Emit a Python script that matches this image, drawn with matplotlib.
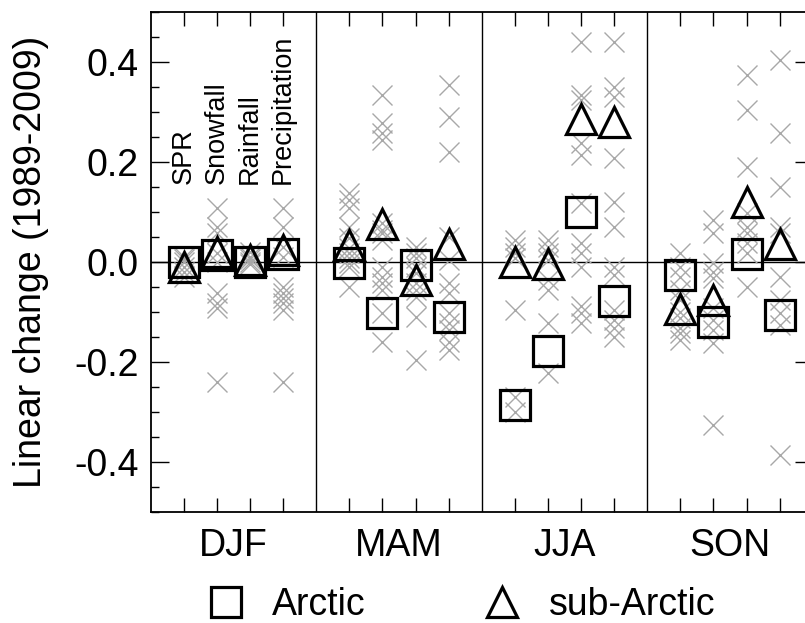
import matplotlib
matplotlib.use("Agg")
import matplotlib.pyplot as plt
from matplotlib.ticker import FixedLocator, MultipleLocator, FuncFormatter, NullFormatter

plt.rcParams['font.family'] = ['Liberation Sans', 'DejaVu Sans']

seasons = ["DJF", "MAM", "JJA", "SON"]
variables = ["SPR", "Snowfall", "Rainfall", "Precipitation"]

# Mean values (Arctic = squares, sub-Arctic = triangles), per season, per variable
arctic_DJF = [0.0, 0.014, 0.0, 0.016]
arctic_MAM = [-0.002, -0.103, -0.006, -0.110]
arctic_JJA = [-0.286, -0.179, 0.099, -0.079]
arctic_SON = [-0.026, -0.120, 0.016, -0.106]

subarctic_DJF = [-0.010, 0.019, 0.004, 0.024]
subarctic_MAM = [0.033, 0.075, -0.036, 0.035]
subarctic_JJA = [-0.001, -0.005, 0.286, 0.280]
subarctic_SON = [-0.094, -0.077, 0.119, 0.036]

# Individual members (grey crosses)
members_DJF = [
    [0.01, 0.005, 0.0, -0.01, -0.02, -0.03],
    [0.107, 0.07, 0.057, 0.017, 0.0, -0.063, -0.083, -0.093, -0.24],
    [0.02, 0.01, 0.005, 0.0, -0.005],
    [0.107, 0.07, 0.03, 0.01, -0.05, -0.063, -0.073, -0.083, -0.096, -0.24],
]
members_MAM = [
    [0.137, 0.124, 0.107, 0.07, 0.047, 0.027, 0.017, 0.007, -0.003, -0.01, -0.05],
    [0.334, 0.277, 0.257, 0.244, 0.077, 0.064, 0.057, 0.044, -0.01, -0.03, -0.043, -0.056, -0.103, -0.16],
    [0.03, 0.017, 0.007, -0.01, -0.023, -0.043, -0.056, -0.07, -0.11, -0.196],
    [0.354, 0.29, 0.22, 0.05, 0.004, -0.043, -0.063, -0.103, -0.123, -0.136, -0.16, -0.176],
]
members_JJA = [
    [0.044, 0.03, 0.017, 0.007, -0.096, -0.27, -0.30],
    [0.044, 0.03, 0.017, 0.004, -0.036, -0.056, -0.123, -0.223],
    [0.44, 0.334, 0.324, 0.237, 0.214, 0.117, 0.037, 0.017, -0.01, -0.089, -0.103, -0.123],
    [0.44, 0.35, 0.33, 0.207, 0.12, 0.07, -0.01, -0.026, -0.096, -0.116, -0.133, -0.15],
]
members_SON = [
    [0.017, -0.01, -0.03, -0.056, -0.076, -0.1, -0.113, -0.133, -0.143, -0.156],
    [0.084, 0.057, -0.003, -0.02, -0.033, -0.093, -0.116, -0.136, -0.163, -0.326],
    [0.374, 0.304, 0.19, 0.097, 0.07, 0.057, 0.037, 0.017, -0.05],
    [0.404, 0.257, 0.15, 0.07, 0.057, -0.03, -0.076, -0.103, -0.126, -0.386],
]

arctic = [arctic_DJF, arctic_MAM, arctic_JJA, arctic_SON]
subarctic = [subarctic_DJF, subarctic_MAM, subarctic_JJA, subarctic_SON]
members = [members_DJF, members_MAM, members_JJA, members_SON]

W, H = 805, 623
fig = plt.figure(figsize=(W / 100, H / 100), dpi=100)
ax = fig.add_axes([150.7 / W, 111 / H, 662 / W, 500.5 / H])

FS = 27
positions = []
for s in range(4):
    for v in range(4):
        x = 5 * s + v + 1
        positions.append(x)
        vals = members[s][v]
        ax.plot([x] * len(vals), vals, linestyle='none', marker='x', ms=14,
                mew=1.0, color='#a8a8a8', zorder=2)

sq_x = [5 * s + v + 1 for s in range(4) for v in range(4)]
sq_y = [arctic[s][v] for s in range(4) for v in range(4)]
tr_y = [subarctic[s][v] for s in range(4) for v in range(4)]
h_sq, = ax.plot(sq_x, sq_y, linestyle='none', marker='s', ms=21, mew=2.3,
                mfc='none', mec='black', zorder=3)
h_tr, = ax.plot(sq_x, tr_y, linestyle='none', marker='^', ms=22, mew=2.3,
                mfc='none', mec='black', zorder=4)

ax.axhline(0, color='black', lw=1.0, zorder=1)
for d in [5, 10, 15]:
    ax.axvline(d, color='black', lw=1.0, zorder=1)

ax.set_xlim(0, 20)
ax.set_ylim(-0.5, 0.5)

ax.xaxis.set_major_locator(FixedLocator(positions))
ax.xaxis.set_major_formatter(NullFormatter())
ax.yaxis.set_major_locator(MultipleLocator(0.2))
ax.yaxis.set_minor_locator(MultipleLocator(0.05))
ax.yaxis.set_major_formatter(FuncFormatter(lambda v, p: f"{round(v, 1):.1f}".replace("-0.0", "0.0")))
ax.tick_params(axis='x', which='major', direction='in', length=10, width=1.0,
               top=True, bottom=True)
ax.tick_params(axis='y', which='major', direction='in', length=13, width=1.0,
               left=True, right=True, labelsize=FS, pad=8.5)
ax.tick_params(axis='y', which='minor', direction='in', length=6, width=1.0,
               left=True, right=True)
for sp in ax.spines.values():
    sp.set_linewidth(1.3)

for s, name in enumerate(seasons):
    ax.text(5 * s + 2.5, -0.067, name, transform=ax.get_xaxis_transform(),
            ha='center', va='center', fontsize=FS)

for v, name in enumerate(variables):
    ax.text(v + 1, 0.155, name, rotation=90, ha='center', va='bottom', fontsize=19.5)

fig.text(31 / W, 1 - 262 / H, "Linear change (1989-2009)", rotation=90,
         ha='center', va='center', fontsize=FS)

fig.legend([h_sq, h_tr], ["Arctic", "sub-Arctic"], loc='center left',
           bbox_to_anchor=(209 / W, 1 - 605 / H), ncol=2, frameon=False,
           fontsize=FS, handlelength=0.88, handletextpad=0.8, columnspacing=3.2,
           borderpad=0, borderaxespad=0, markerscale=1.0)

fig.savefig("out.png", dpi=100)
